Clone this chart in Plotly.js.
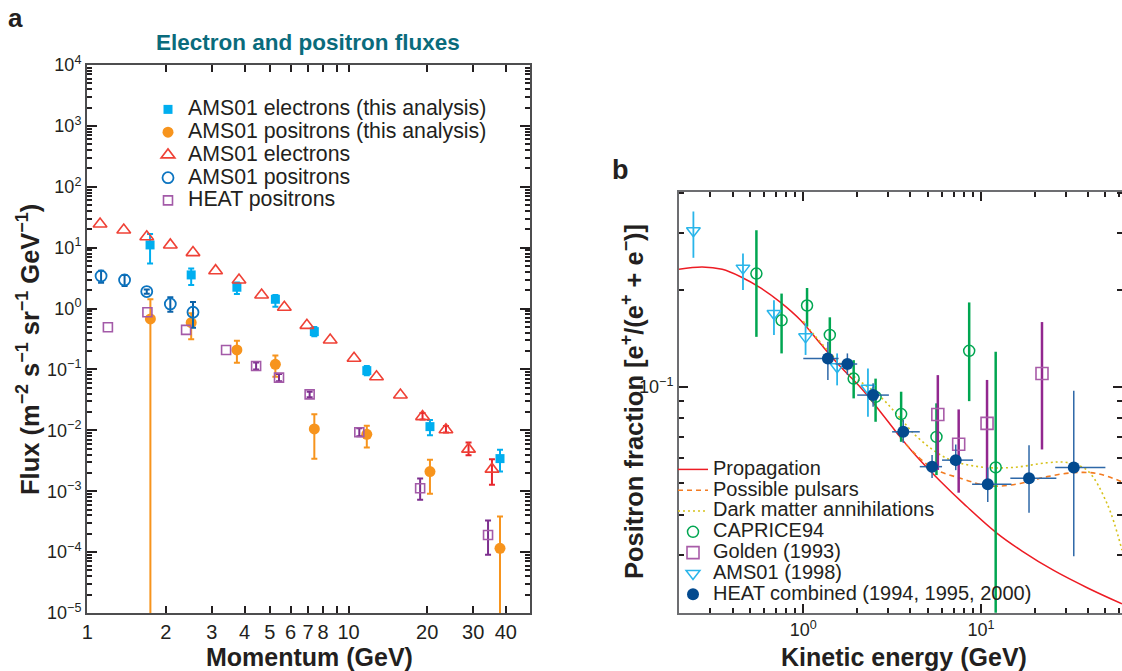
<!DOCTYPE html>
<html><head><meta charset="utf-8">
<script src="https://cdn.plot.ly/plotly-3.0.1.min.js"></script>
<style>html,body{margin:0;padding:0;background:#fff}#chart{width:1122px;height:671px}</style>
</head><body><div id="chart"></div>
<script>
// ---------- Panel a: Electron and positron fluxes ----------
const amsElThisX  = [1.74, 2.5, 3.74, 5.25, 7.4, 11.75, 20.5, 38.0];
const amsElThisY  = [11.1, 3.57, 2.24, 1.42, 0.418, 0.0955, 0.0115, 0.00343];
const amsElThisHi = [16.8, 4.57, 2.67, 1.67, 0.50, 0.114, 0.0148, 0.0048];
const amsElThisLo = [5.5, 2.44, 1.74, 1.07, 0.35, 0.080, 0.0083, 0.0021];

const amsPosThisX  = [1.745, 2.5, 3.74, 5.25, 7.4, 11.75, 20.5, 38.0];
const amsPosThisY  = [0.675, 0.587, 0.209, 0.1216, 0.01055, 0.0086, 0.0021, 0.000115];
const amsPosThisHi = [1.42, 0.837, 0.297, 0.169, 0.0184, 0.0119, 0.00327, 0.000383];
const amsPosThisLo = [1e-6, 0.313, 0.129, 0.076, 0.0034, 0.0052, 0.00091, 1e-6];

const amsElX  = [1.12, 1.38, 1.69, 2.08, 2.54, 3.1, 3.81, 4.65, 5.68, 6.93, 8.51, 10.5, 12.8, 15.8, 19.2, 23.6, 28.8, 35.4];
const amsElY  = [24.5, 19.5, 15.1, 11.1, 8.3, 4.19, 2.95, 1.67, 1.05, 0.53, 0.305, 0.153, 0.076, 0.038, 0.0168, 0.0102, 0.0049, 0.0023];
const amsElHi = [null, null, null, null, null, null, null, null, null, null, null, null, null, null, 0.0193, 0.0118, 0.0063, 0.00335];
const amsElLo = [null, null, null, null, null, null, null, null, null, null, null, null, null, null, 0.0150, 0.0092, 0.0039, 0.00128];

const amsPosX  = [1.13, 1.39, 1.69, 2.08, 2.54];
const amsPosY  = [3.43, 2.95, 1.9, 1.19, 0.87];
const amsPosHi = [4.19, 3.55, 2.05, 1.53, 1.28];
const amsPosLo = [2.66, 2.34, 1.75, 0.89, 0.485];

const heatPosX  = [1.2, 1.7, 2.39, 3.4, 4.43, 5.42, 7.1, 11.0, 18.8, 34.2];
const heatPosY  = [0.493, 0.87, 0.446, 0.209, 0.114, 0.0735, 0.039, 0.0093, 0.00112, 0.000191];
const heatPosHi = [null, null, null, null, 0.13, 0.084, 0.043, 0.0108, 0.00162, 0.00033];
const heatPosLo = [null, null, null, null, 0.10, 0.064, 0.035, 0.0080, 0.00072, 0.00009];

const aXTicks = [1, 2, 3, 4, 5, 6, 7, 8, 10, 20, 30, 40];
const aXTickText = ['1', '2', '3', '4', '5', '6', '7', '8', '10', '20', '30', '40'];
const aXMinor = [9];
const aYTicks = [1e-5, 1e-4, 1e-3, 1e-2, 1e-1, 1, 10, 100, 1000, 10000];
const aYTickText = ['10<sup>−5</sup>', '10<sup>−4</sup>', '10<sup>−3</sup>', '10<sup>−2</sup>', '10<sup>−1</sup>', '10<sup>0</sup>', '10<sup>1</sup>', '10<sup>2</sup>', '10<sup>3</sup>', '10<sup>4</sup>'];

// ---------- Panel b: Positron fraction ----------
const propE = [0.2, 0.27, 0.35, 0.444, 0.575, 0.745, 0.966, 1.25, 1.62, 2.1, 2.72, 3.37, 4.18, 5.9, 8.0, 12.2, 17, 25.6, 40, 62];
const propF = [0.232, 0.236, 0.232, 0.220, 0.203, 0.183, 0.161, 0.136, 0.1154, 0.0995, 0.0835, 0.0717, 0.0621, 0.0508, 0.0432, 0.0351, 0.0308, 0.0268, 0.0236, 0.0211];

const pulsarE = [3.5, 5.19, 7.65, 11.3, 16.6, 23.5, 33.1, 44.9, 62];
const pulsarF = [0.0695, 0.0563, 0.0519, 0.0491, 0.05, 0.0525, 0.054, 0.0537, 0.0506];

const dmE = [1.0, 1.15, 1.84, 2.72, 3.52, 4.37, 6.44, 9.9, 15.2, 23.5, 30.4, 39.4, 51, 62];
const dmF = [0.16, 0.145, 0.110, 0.093, 0.0797, 0.0698, 0.0598, 0.0563, 0.0561, 0.058, 0.0581, 0.055, 0.0434, 0.031];

const capE  = [0.545, 0.755, 1.05, 1.41, 1.92, 2.55, 3.55, 5.61, 8.57, 12.08];
const capF  = [0.225, 0.161, 0.179, 0.145, 0.106, 0.093, 0.0822, 0.0698, 0.1294, 0.0561];
const capHi = [0.307, 0.195, 0.203, 0.1645, 0.121, 0.106, 0.0965, 0.0888, 0.183, 0.1285];
const capLo = [0.143, 0.127, 0.154, 0.1225, 0.092, 0.0778, 0.0674, 0.0531, 0.0902, 0.001];

const goldE  = [5.71, 7.48, 10.8, 22.0];
const goldF  = [0.082, 0.0662, 0.0769, 0.110];
const goldHi = [0.1087, 0.085, 0.105, 0.159];
const goldLo = [0.0551, 0.0468, 0.0488, 0.0638];

const ams98E  = [0.241, 0.458, 0.684, 1.03, 1.55, 2.31];
const ams98F  = [0.306, 0.234, 0.169, 0.143, 0.1154, 0.0989];
const ams98Hi = [0.351, 0.26, 0.186, 0.1576, 0.127, 0.114];
const ams98Lo = [0.252, 0.2, 0.145, 0.1256, 0.101, 0.0807];

const heatE    = [1.375, 1.77, 2.47, 3.65, 5.3, 7.2, 10.9, 18.6, 33.2];
const heatF    = [0.1225, 0.1177, 0.0942, 0.0724, 0.0564, 0.0591, 0.0497, 0.0519, 0.0561];
const heatEmin = [1.0, 1.52, 2.01, 3.16, 4.52, 6.03, 8.9, 14.6, 26.1];
const heatEmax = [1.58, 2.01, 3.03, 4.52, 6.03, 9.0, 14.8, 26.5, 50];
const heatFhi  = [0.138, 0.127, 0.1025, 0.0788, 0.0613, 0.0661, 0.0561, 0.0658, 0.0971];
const heatFlo  = [0.105, 0.109, 0.0866, 0.0669, 0.052, 0.055, 0.0438, 0.0405, 0.0297];

const bXTicks = [1, 10];
const bXTickText = ['10<sup>0</sup>', '10<sup>1</sup>'];
const bXMinor = [0.2, 0.3, 0.4, 0.5, 0.6, 0.7, 0.8, 0.9, 2, 3, 4, 5, 6, 7, 8, 9, 20, 30, 40, 50, 60];
const bYTicks = [0.1];
const bYTickText = ['10<sup>−1</sup>'];
const bYMinor = [0.03, 0.04, 0.05, 0.06, 0.07, 0.08, 0.09, 0.2, 0.3, 0.4];

// ---------- helpers ----------
const up = (v, hi) => hi.map((h, i) => h == null ? NaN : h - v[i]);
const dn = (v, lo) => lo.map((l, i) => l == null ? NaN : v[i] - l);
const FONT = 'Liberation Sans, Arial, Helvetica, sans-serif';
const INK = '#231f20';
const aMinorY = [];
[-5,-4,-3,-2,-1,0,1,2,3].forEach(k => { for (let m = 2; m <= 9; m++) aMinorY.push(+(m * Math.pow(10, k)).toPrecision(3)); });
const lgA = s => '<span style="font-size:21.3px">' + s + '</span>';
const lgB = s => '<span style="font-size:20px">' + s + '</span>';

function errA(v, hi, lo, color, w) {
  return {type: 'data', symmetric: false, array: up(v, hi), arrayminus: dn(v, lo), color: color, thickness: w || 2, width: 3};
}
function errB(v, hi, lo, color, w) {
  return {type: 'data', symmetric: false, array: up(v, hi), arrayminus: dn(v, lo), color: color, thickness: w || 2, width: 0};
}

const traces = [
  // panel a
  {x: amsElThisX, y: amsElThisY, type: 'scatter', mode: 'markers', name: lgA('AMS01 electrons (this analysis)'),
   marker: {symbol: 'square', size: 9, color: '#00aeef'}, error_y: errA(amsElThisY, amsElThisHi, amsElThisLo, '#00aeef'),
   xaxis: 'x', yaxis: 'y', legend: 'legend'},
  {x: amsPosThisX, y: amsPosThisY, type: 'scatter', mode: 'markers', name: lgA('AMS01 positrons (this analysis)'),
   marker: {symbol: 'circle', size: 11, color: '#f7941d'}, error_y: errA(amsPosThisY, amsPosThisHi, amsPosThisLo, '#f7941d'),
   xaxis: 'x', yaxis: 'y', legend: 'legend'},
  {x: amsElX, y: amsElY, type: 'scatter', mode: 'markers', name: lgA('AMS01 electrons'),
   marker: {symbol: 'triangle-up-open', size: 12, color: '#ef4136', line: {width: 1.6}}, error_y: errA(amsElY, amsElHi, amsElLo, '#e8262d'),
   xaxis: 'x', yaxis: 'y', legend: 'legend'},
  {x: amsPosX, y: amsPosY, type: 'scatter', mode: 'markers', name: lgA('AMS01 positrons'),
   marker: {symbol: 'circle-open', size: 11, color: '#0b74c0', line: {width: 1.8}}, error_y: errA(amsPosY, amsPosHi, amsPosLo, '#0b62a8'),
   xaxis: 'x', yaxis: 'y', legend: 'legend'},
  {x: heatPosX, y: heatPosY, type: 'scatter', mode: 'markers', name: lgA('HEAT positrons'),
   marker: {symbol: 'square-open', size: 9, color: '#a35aa8', line: {width: 1.6}}, error_y: errA(heatPosY, heatPosHi, heatPosLo, '#7d2f8f'),
   xaxis: 'x', yaxis: 'y', legend: 'legend'},
  // panel b
  {x: propE, y: propF, type: 'scatter', mode: 'lines', name: lgB('Propagation'), line: {color: '#ed1c24', width: 1.5, shape: 'spline', smoothing: 1},
   xaxis: 'x2', yaxis: 'y2', legend: 'legend2'},
  {x: pulsarE, y: pulsarF, type: 'scatter', mode: 'lines', name: lgB('Possible pulsars'), line: {color: '#f37b21', width: 1.6, dash: '5px,4px', shape: 'spline'},
   xaxis: 'x2', yaxis: 'y2', legend: 'legend2'},
  {x: dmE, y: dmF, type: 'scatter', mode: 'lines', name: lgB('Dark matter annihilations'), line: {color: '#d6c21c', width: 1.6, dash: '2px,3px', shape: 'spline'},
   xaxis: 'x2', yaxis: 'y2', legend: 'legend2'},
  {x: capE, y: capF, type: 'scatter', mode: 'markers', name: lgB('CAPRICE94'),
   marker: {symbol: 'circle-open', size: 11, color: '#00a651', line: {width: 1.5}}, error_y: errB(capF, capHi, capLo, '#00a651', 2.5),
   xaxis: 'x2', yaxis: 'y2', legend: 'legend2'},
  {x: goldE, y: goldF, type: 'scatter', mode: 'markers', name: lgB('Golden (1993)'),
   marker: {symbol: 'square-open', size: 12, color: '#a85ca8', line: {width: 1.6}}, error_y: errB(goldF, goldHi, goldLo, '#92278f', 2.5),
   xaxis: 'x2', yaxis: 'y2', legend: 'legend2'},
  {x: ams98E, y: ams98F, type: 'scatter', mode: 'markers', name: lgB('AMS01 (1998)'),
   marker: {symbol: 'triangle-down-open', size: 12, color: '#29b5ea', line: {width: 1.5}}, error_y: errB(ams98F, ams98Hi, ams98Lo, '#29b5ea', 1.8),
   xaxis: 'x2', yaxis: 'y2', legend: 'legend2'},
  {x: heatE, y: heatF, type: 'scatter', mode: 'markers', name: lgB('HEAT combined (1994, 1995, 2000)'),
   marker: {symbol: 'circle', size: 12, color: '#034a8f'},
   error_y: errB(heatF, heatFhi, heatFlo, '#2e68a8', 1.5),
   error_x: {type: 'data', symmetric: false, array: up(heatE, heatEmax), arrayminus: dn(heatE, heatEmin), color: '#2e68a8', thickness: 1.5, width: 0},
   xaxis: 'x2', yaxis: 'y2', legend: 'legend2'}
];

const axisCommon = {
  showline: true, linecolor: '#4d4d4f', linewidth: 2, mirror: 'ticks',
  ticks: 'inside', tickcolor: INK, tickwidth: 2, showgrid: false, zeroline: false,
  tickmode: 'array', tickfont: {family: FONT, size: 18, color: INK}
};

const layout = {
  width: 1122, height: 671,
  margin: {l: 0, r: 0, t: 0, b: 0},
  paper_bgcolor: '#ffffff', plot_bgcolor: 'rgba(0,0,0,0)',
  font: {family: FONT, color: INK},
  showlegend: true,
  xaxis: Object.assign({}, axisCommon, {
    domain: [87/1122, 530/1122], anchor: 'y', type: 'log', range: [-0.0008, Math.log10(49.5)],
    tickvals: aXTicks, ticktext: aXTickText, ticklen: 7, tickfont: {family: FONT, size: 20, color: INK},
    minor: {tickmode: 'array', tickvals: aXMinor, ticks: 'inside', ticklen: 7, tickwidth: 2, tickcolor: INK}
  }),
  yaxis: Object.assign({}, axisCommon, {
    domain: [58/671, 606/671], anchor: 'x', type: 'log', range: [-5.001, 4.001],
    tickvals: aYTicks, ticktext: aYTickText, ticklen: 10,
    minor: {tickmode: 'array', tickvals: aMinorY, ticks: 'inside', ticklen: 5, tickwidth: 2, tickcolor: INK}
  }),
  xaxis2: Object.assign({}, axisCommon, {
    domain: [679/1122, 1], anchor: 'y2', type: 'log', range: [Math.log10(0.2), Math.log10(62)],
    tickvals: bXTicks, ticktext: bXTickText, ticklen: 9, linecolor: '#6d6e71',
    minor: {tickmode: 'array', tickvals: bXMinor, ticks: 'inside', ticklen: 5, tickwidth: 2, tickcolor: INK}
  }),
  yaxis2: Object.assign({}, axisCommon, {
    domain: [58.3/671, 478.7/671], anchor: 'x2', type: 'log', range: [Math.log10(0.0198), Math.log10(0.403)],
    tickvals: bYTicks, ticktext: bYTickText, ticklen: 9, linecolor: '#6d6e71',
    minor: {tickmode: 'array', tickvals: bYMinor, ticks: 'inside', ticklen: 5, tickwidth: 2, tickcolor: INK}
  }),
  legend: {x: 148/1122, xanchor: 'left', y: (671-93)/671, yanchor: 'top', bgcolor: 'rgba(0,0,0,0)',
           font: {family: FONT, size: 15.2, color: INK}, itemsizing: 'trace', tracegroupgap: 0},
  legend2: {x: 673/1122, xanchor: 'left', y: (671-454)/671, yanchor: 'top', bgcolor: 'rgba(0,0,0,0)',
           font: {family: FONT, size: 13.7, color: INK}, itemsizing: 'trace', tracegroupgap: 0},
  annotations: [
    {text: '<b>a</b>', x: 6/1122, y: (671-18)/671, xref: 'paper', yref: 'paper', xanchor: 'left', yanchor: 'middle', showarrow: false,
     font: {family: FONT, size: 26, color: INK}},
    {text: '<b>b</b>', x: 610/1122, y: (671-170)/671, xref: 'paper', yref: 'paper', xanchor: 'left', yanchor: 'middle', showarrow: false,
     font: {family: FONT, size: 27, color: INK}},
    {text: '<b>Electron and positron fluxes</b>', x: 308/1122, y: (671-42)/671, xref: 'paper', yref: 'paper', xanchor: 'center', yanchor: 'middle', showarrow: false,
     font: {family: FONT, size: 22.5, color: '#0a6b7c'}},
    {text: '<b>Momentum (GeV)</b>', x: 309/1122, y: (671-657)/671, xref: 'paper', yref: 'paper', xanchor: 'center', yanchor: 'middle', showarrow: false,
     font: {family: FONT, size: 25, color: INK}},
    {text: '<b>Flux (m<sup>−2</sup> s<sup>−1</sup> sr<sup>−1</sup> GeV<sup>−1</sup>)</b>', x: 28/1122, y: (671-350)/671, xref: 'paper', yref: 'paper', xanchor: 'center', yanchor: 'middle', textangle: -90, showarrow: false,
     font: {family: FONT, size: 25.5, color: INK}},
    {text: '<b>Kinetic energy (GeV)</b>', x: 904/1122, y: (671-657)/671, xref: 'paper', yref: 'paper', xanchor: 'center', yanchor: 'middle', showarrow: false,
     font: {family: FONT, size: 25, color: INK}},
    {text: '<b>Positron fraction [e<sup>+</sup>/(e<sup>+</sup> + e<sup>−</sup>)]</b>', x: 632/1122, y: (671-402)/671, xref: 'paper', yref: 'paper', xanchor: 'center', yanchor: 'middle', textangle: -90, showarrow: false,
     font: {family: FONT, size: 25.5, color: INK}}
  ]
};

Plotly.newPlot('chart', traces, layout, {displayModeBar: false, staticPlot: true});
</script>
</body></html>
